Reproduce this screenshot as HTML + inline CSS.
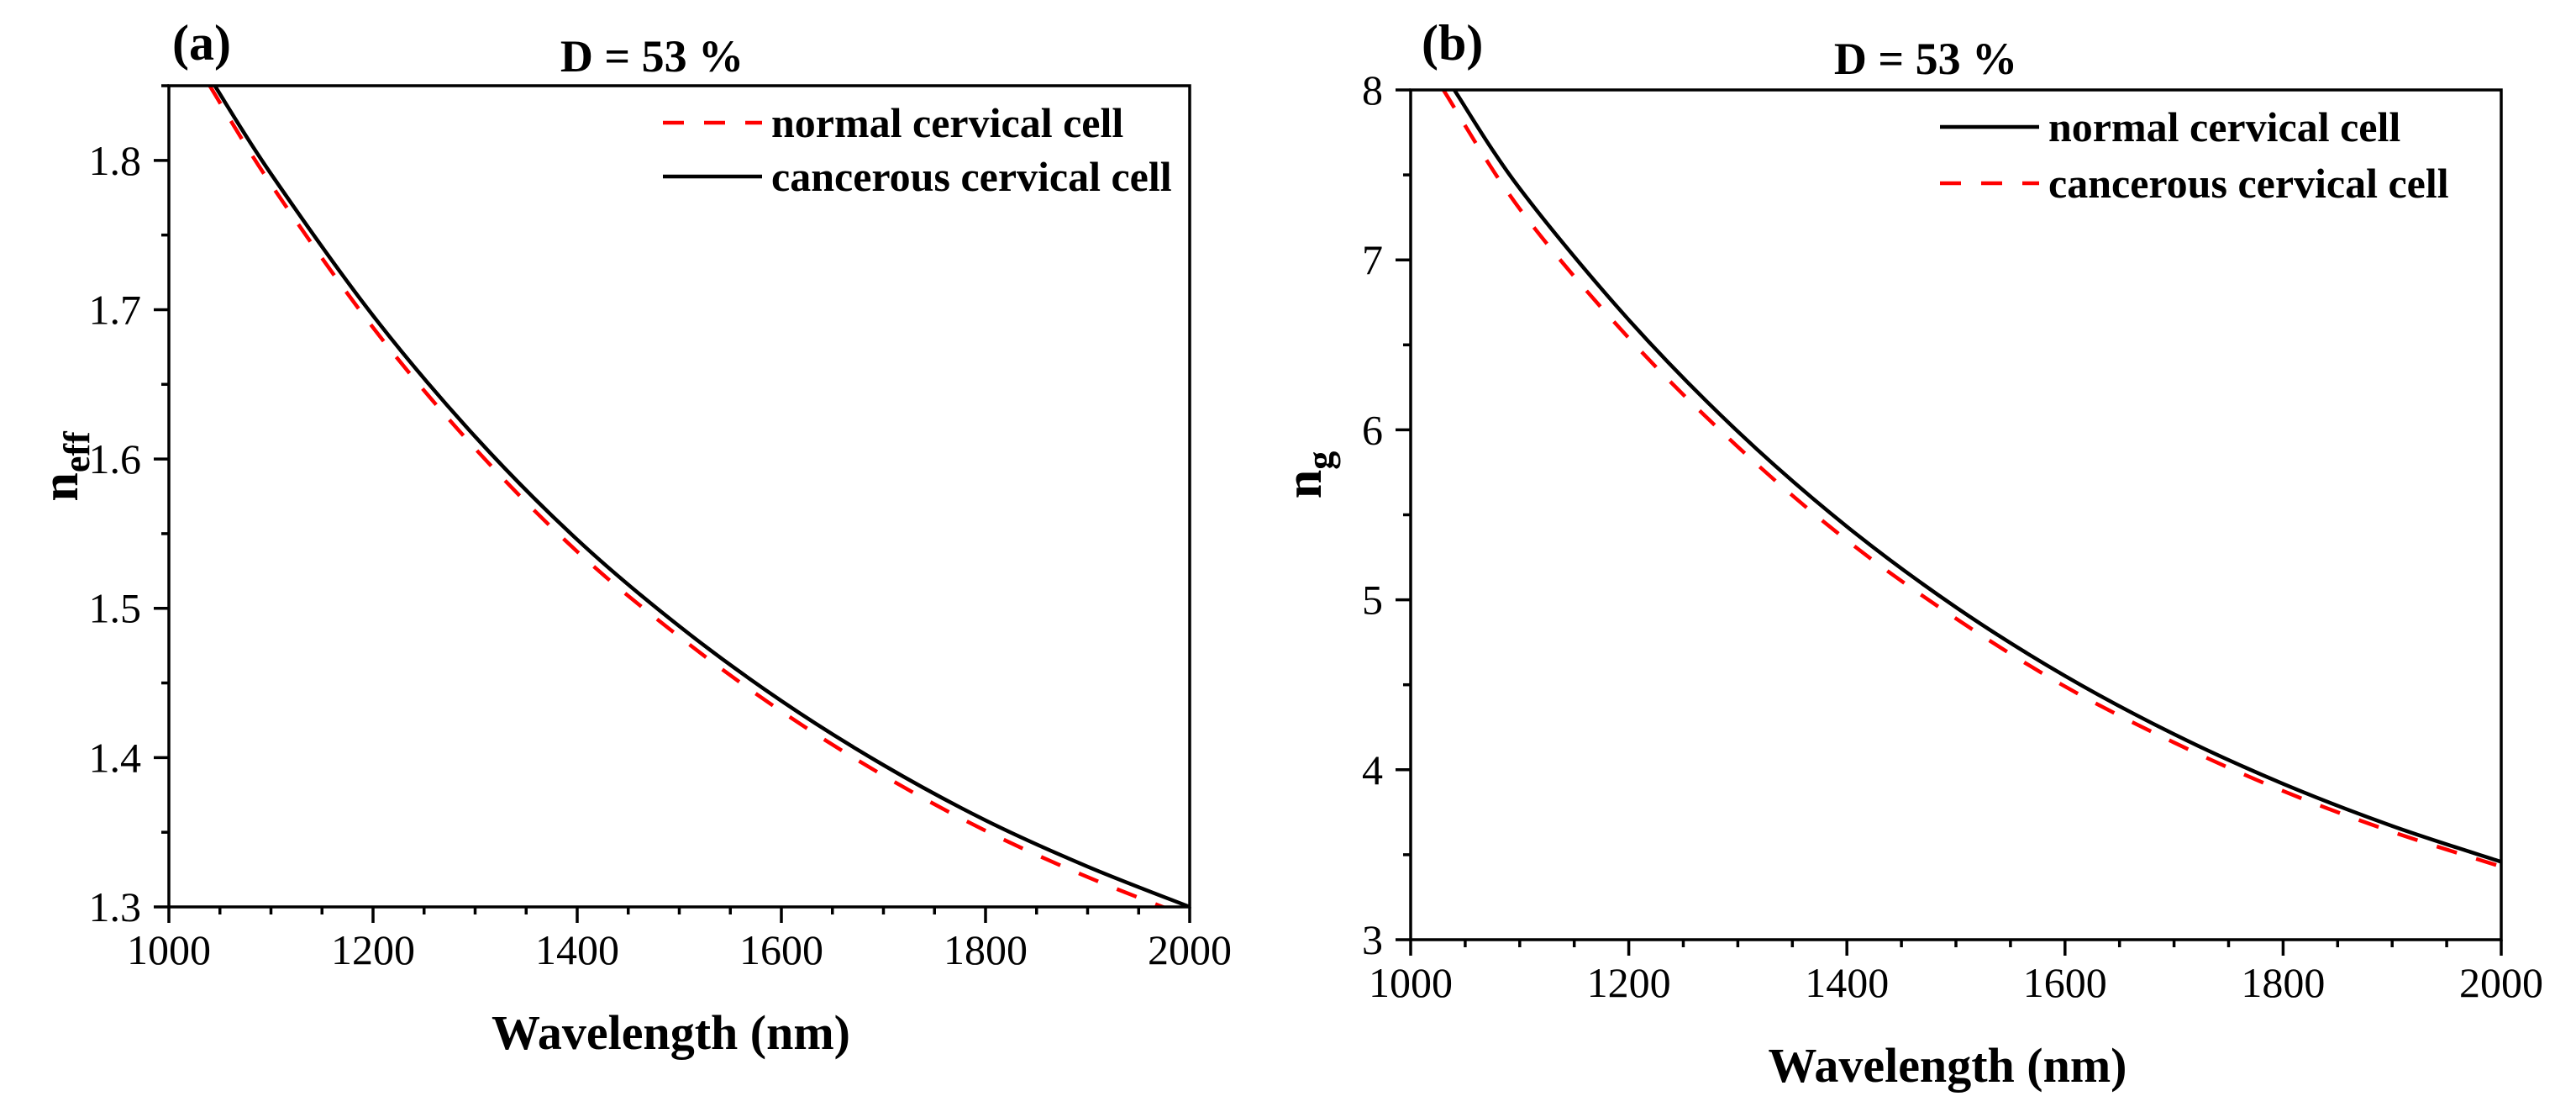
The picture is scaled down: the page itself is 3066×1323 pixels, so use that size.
<!DOCTYPE html>
<html><head><meta charset="utf-8">
<style>
html,body{margin:0;padding:0;background:#fff;overflow:hidden;}
svg{display:block;}
text{font-family:"Liberation Serif",serif;fill:#000;}
</style></head>
<body>
<svg id="fig" width="3066" height="1323" viewBox="0 0 3066 1323" xmlns="http://www.w3.org/2000/svg"></svg>
<script>
// Panel (a) data
const aNormalX = [1040,1100,1200,1300,1400,1500,1600,1700,1800,1900,2000];
const aNormalY = [1.85,1.784,1.688,1.607,1.538,1.481,1.431,1.388,1.351,1.320,1.293];
const aCancerX = [1045,1100,1200,1300,1400,1500,1600,1700,1800,1900,2000];
const aCancerY = [1.85,1.791,1.696,1.615,1.546,1.488,1.438,1.395,1.358,1.327,1.300];
const aXTicks = [1000,1200,1400,1600,1800,2000];
const aYTicks = [1.3,1.4,1.5,1.6,1.7,1.8];
// Panel (b) data
const bNormalX = [1040,1100,1200,1300,1400,1500,1600,1700,1800,1900,2000];
const bNormalY = [8.0,7.42,6.647,5.99,5.431,4.956,4.552,4.209,3.917,3.669,3.458];
const bCancerX = [1030,1100,1200,1300,1400,1500,1600,1700,1800,1900,2000];
const bCancerY = [8.0,7.30,6.54,5.90,5.35,4.89,4.49,4.16,3.875,3.635,3.43];
const bXTicks = [1000,1200,1400,1600,1800,2000];
const bYTicks = [3,4,5,6,7,8];

const NS="http://www.w3.org/2000/svg";
const svg=document.getElementById('fig');
function mk(tag,attrs,parent){const e=document.createElementNS(NS,tag);for(const k in attrs)e.setAttribute(k,attrs[k]);(parent||svg).appendChild(e);return e;}
function txt(s,attrs,parent){const e=mk('text',attrs,parent);e.textContent=s;return e;}

function smooth(pts){
  let d='M'+pts[0][0]+','+pts[0][1];
  for(let i=0;i<pts.length-1;i++){
    const p0=pts[i-1]||pts[i],p1=pts[i],p2=pts[i+1],p3=pts[i+2]||p2;
    const c1=[p1[0]+(p2[0]-p0[0])/6,p1[1]+(p2[1]-p0[1])/6];
    const c2=[p2[0]-(p3[0]-p1[0])/6,p2[1]-(p3[1]-p1[1])/6];
    d+=' C'+c1[0]+','+c1[1]+' '+c2[0]+','+c2[1]+' '+p2[0]+','+p2[1];
  }
  return d;
}

function panel(o){
  const g=mk('g',{});
  
  
  const X=v=>o.L+(v-o.xmin)/(o.xmax-o.xmin)*(o.R-o.L);
  const Y=v=>o.B-(v-o.ymin)/(o.ymax-o.ymin)*(o.B-o.T);
  const cid='clip'+o.name;
  const cp=mk('clipPath',{id:cid},g);mk('rect',{x:o.L,y:o.T,width:o.R-o.L,height:o.B-o.T},cp);
  o.series.forEach(s=>{
    const pts=s.x.map((xv,i)=>[X(xv),Y(s.y[i])]);
    const p=mk('path',{d:smooth(pts),fill:'none',stroke:s.color,'stroke-width':4.5,'stroke-dasharray':s.dash||'none','clip-path':'url(#'+cid+')'},g);
    
    
  });
  const frame=mk('rect',{x:o.L,y:o.T,width:o.R-o.L,height:o.B-o.T,fill:'none',stroke:'#000','stroke-width':3.5},g);
  
  
  for(let v=o.xmin;v<=o.xmax+1e-9;v+=50){
    const major=Math.abs(v%200)<1e-6;
    mk('line',{x1:X(v),x2:X(v),y1:o.B,y2:o.B+(major?19:9),stroke:'#000','stroke-width':3.5},g);
  }
  o.xt.forEach(v=>{const t=txt(String(v),{x:X(v),y:o.B+68,'font-size':50,'text-anchor':'middle'},g);
    
    });
  const n=Math.round((o.ymax-o.ymin)/o.ystep);
  for(let i=0;i<=n;i++){
    const v=o.ymin+i*o.ystep;
    const major=i%2===0;
    mk('line',{x1:o.L,x2:o.L-(major?18:9),y1:Y(v),y2:Y(v),stroke:'#000','stroke-width':3.5},g);
  }
  o.yt.forEach(v=>{const t=txt(o.fmt(v),{x:o.L-33,y:Y(v)+17,'font-size':50,'text-anchor':'end'},g);
    
    });
  o.series.forEach((s,i)=>{
    const ly=o.legY[i];
    const l=mk('line',{x1:o.legX,x2:o.legX+118,y1:ly,y2:ly,stroke:s.color,'stroke-width':4.5,'stroke-dasharray':s.dash||'none'},g);
    
    
    const t=txt(s.label,{x:o.legX+129,y:ly+17,'font-size':50,'font-weight':'bold'},g);
    
    
  });
  const ti=txt('D = 53 %',{x:o.titleX,y:o.titleY,'font-size':54,'font-weight':'bold','text-anchor':'middle'},g);
  
  
  const pl=txt(o.letter,{x:o.letX,y:71,'font-size':60,'font-weight':'bold'},g);
  
  
  const xl=txt('Wavelength (nm)',{x:(o.L+o.R)/2-10,y:o.xtitleY,'font-size':58,'font-weight':'bold','text-anchor':'middle'},g);
  
  
  const yl=mk('text',{transform:'translate('+o.ytitleX+','+o.ytitleY+') rotate(-90)','font-size':62,'font-weight':'bold','text-anchor':'middle'},g);
  
  
  yl.appendChild(document.createTextNode('n'));
  const sub=document.createElementNS(NS,'tspan');sub.setAttribute('font-size',44);sub.setAttribute('dy',14);sub.textContent=o.sub;yl.appendChild(sub);
}

panel({name:'panel-a',L:201,R:1416,T:102,B:1079,xmin:1000,xmax:2000,ymin:1.3,ymax:1.85,ystep:0.05,
  xt:aXTicks,yt:aYTicks,fmt:v=>v.toFixed(1),xtitleY:1248,ytitleX:92,ytitleY:555,sub:'eff',
  titleX:776,titleY:85,letter:'(a)',letX:205,legX:789,legY:[146,210],
  series:[{id:'normal-cervical-cell-line',x:aNormalX,y:aNormalY,color:'#f00',dash:'25,24',label:'normal cervical cell'},
          {id:'cancerous-cervical-cell-line',x:aCancerX,y:aCancerY,color:'#000',label:'cancerous cervical cell'}]});
panel({name:'panel-b',L:1679,R:2977,T:107,B:1118,xmin:1000,xmax:2000,ymin:3,ymax:8,ystep:0.5,
  xt:bXTicks,yt:bYTicks,fmt:v=>String(v),xtitleY:1287,ytitleX:1572,ytitleY:565,sub:'g',
  titleX:2292,titleY:88,letter:'(b)',letX:1692,legX:2309,legY:[151,218],
  series:[{id:'normal-cervical-cell-line',x:bNormalX,y:bNormalY,color:'#000',label:'normal cervical cell'},
          {id:'cancerous-cervical-cell-line',x:bCancerX,y:bCancerY,color:'#f00',dash:'25,24',label:'cancerous cervical cell'}]});
</script>
</body></html>
